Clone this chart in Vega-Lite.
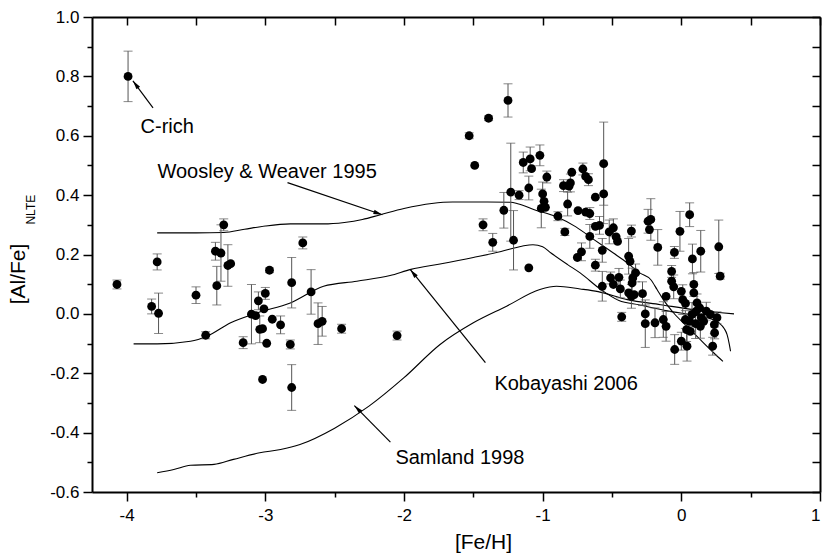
{
  "$schema": "https://vega.github.io/schema/vega-lite/v6.json",
  "width": 728,
  "height": 475,
  "autosize": {"type": "none"},
  "padding": {"left": 92, "top": 17, "right": 2, "bottom": 66},
  "config": {
    "font": "Liberation Sans",
    "view": {"stroke": null},
    "axis": {
      "domainColor": "#000", "domainWidth": 2, "tickColor": "#000", "tickWidth": 1.5,
      "labelColor": "#000", "titleColor": "#000", "labelFont": "Liberation Sans", "titleFont": "Liberation Sans",
      "labelFontSize": 17, "titleFontSize": 21, "titleFontWeight": "normal", "grid": false
    }
  },
  "datasets": {
    "stars": [
      {"x": -4.07, "y": 0.099, "e": 0.015}, {"x": -3.78, "y": 0.175, "e": 0.027}, {"x": -3.82, "y": 0.025, "e": 0.025},
      {"x": -3.77, "y": 0.002, "e": 0.068}, {"x": -3.50, "y": 0.063, "e": 0.028}, {"x": -3.43, "y": -0.072, "e": 0.012},
      {"x": -3.30, "y": 0.300, "e": 0.02}, {"x": -3.36, "y": 0.211, "e": 0.03}, {"x": -3.32, "y": 0.205, "e": 0.095},
      {"x": -3.35, "y": 0.095, "e": 0.065}, {"x": -3.27, "y": 0.163, "e": 0.07}, {"x": -3.25, "y": 0.169, "e": 0},
      {"x": -2.97, "y": 0.147, "e": 0.008}, {"x": -2.81, "y": 0.105, "e": 0.085}, {"x": -2.73, "y": 0.239, "e": 0.02},
      {"x": -2.67, "y": 0.074, "e": 0.075}, {"x": -2.62, "y": -0.033, "e": 0.07}, {"x": -2.59, "y": -0.025, "e": 0.05},
      {"x": -2.45, "y": -0.050, "e": 0.015}, {"x": -3.00, "y": 0.069, "e": 0.02}, {"x": -3.05, "y": 0.044, "e": 0.03},
      {"x": -3.01, "y": 0.017, "e": 0}, {"x": -3.10, "y": -0.001, "e": 0.1}, {"x": -3.07, "y": -0.006, "e": 0},
      {"x": -3.04, "y": -0.052, "e": 0.045}, {"x": -3.02, "y": -0.050, "e": 0}, {"x": -2.95, "y": -0.018, "e": 0},
      {"x": -2.89, "y": -0.037, "e": 0.03}, {"x": -3.16, "y": -0.097, "e": 0.02}, {"x": -2.99, "y": -0.099, "e": 0},
      {"x": -2.82, "y": -0.103, "e": 0.015}, {"x": -3.02, "y": -0.221, "e": 0}, {"x": -2.81, "y": -0.248, "e": 0.077},
      {"x": -3.99, "y": 0.800, "e": 0.085}, {"x": -2.05, "y": -0.073, "e": 0.015},
      {"x": -1.25, "y": 0.719, "e": 0.056}, {"x": -1.39, "y": 0.659, "e": 0.008}, {"x": -1.53, "y": 0.600, "e": 0.01},
      {"x": -1.49, "y": 0.500, "e": 0}, {"x": -1.14, "y": 0.510, "e": 0.035}, {"x": -1.09, "y": 0.522, "e": 0.04},
      {"x": -1.08, "y": 0.489, "e": 0}, {"x": -1.02, "y": 0.534, "e": 0.035}, {"x": -0.97, "y": 0.461, "e": 0.02},
      {"x": -1.10, "y": 0.424, "e": 0.04}, {"x": -1.23, "y": 0.410, "e": 0.165}, {"x": -1.21, "y": 0.248, "e": 0.1},
      {"x": -1.17, "y": 0.400, "e": 0.015}, {"x": -1.28, "y": 0.349, "e": 0.06}, {"x": -1.43, "y": 0.300, "e": 0.02},
      {"x": -1.36, "y": 0.241, "e": 0.03}, {"x": -1.10, "y": 0.155, "e": 0}, {"x": -0.84, "y": 0.276, "e": 0.012},
      {"x": -0.75, "y": 0.190, "e": 0}, {"x": -1.00, "y": 0.404, "e": 0.04}, {"x": -0.99, "y": 0.379, "e": 0},
      {"x": -0.98, "y": 0.359, "e": 0}, {"x": -1.01, "y": 0.355, "e": 0.065}, {"x": -0.89, "y": 0.329, "e": 0.015},
      {"x": -0.85, "y": 0.432, "e": 0.02}, {"x": -0.81, "y": 0.430, "e": 0}, {"x": -0.80, "y": 0.441, "e": 0.03},
      {"x": -0.79, "y": 0.477, "e": 0}, {"x": -0.82, "y": 0.370, "e": 0.04}, {"x": -0.745, "y": 0.348, "e": 0},
      {"x": -0.71, "y": 0.488, "e": 0.02}, {"x": -0.69, "y": 0.463, "e": 0}, {"x": -0.67, "y": 0.452, "e": 0.02},
      {"x": -0.62, "y": 0.393, "e": 0}, {"x": -0.56, "y": 0.506, "e": 0.14}, {"x": -0.56, "y": 0.404, "e": 0.1},
      {"x": -0.69, "y": 0.343, "e": 0}, {"x": -0.66, "y": 0.338, "e": 0.02}, {"x": -0.62, "y": 0.295, "e": 0},
      {"x": -0.59, "y": 0.298, "e": 0.03}, {"x": -0.66, "y": 0.261, "e": 0.04}, {"x": -0.52, "y": 0.276, "e": 0.04},
      {"x": -0.49, "y": 0.290, "e": 0.03}, {"x": -0.47, "y": 0.259, "e": 0}, {"x": -0.46, "y": 0.244, "e": 0},
      {"x": -0.36, "y": 0.279, "e": 0.02}, {"x": -0.57, "y": 0.214, "e": 0.04}, {"x": -0.72, "y": 0.209, "e": 0.03},
      {"x": -0.62, "y": 0.164, "e": 0.02}, {"x": -0.38, "y": 0.194, "e": 0.06}, {"x": -0.37, "y": 0.177, "e": 0},
      {"x": -0.51, "y": 0.121, "e": 0.02}, {"x": -0.45, "y": 0.123, "e": 0.03}, {"x": -0.49, "y": 0.099, "e": 0},
      {"x": -0.44, "y": 0.084, "e": 0.03}, {"x": -0.33, "y": 0.138, "e": 0.03}, {"x": -0.35, "y": 0.121, "e": 0},
      {"x": -0.355, "y": 0.104, "e": 0.05}, {"x": -0.38, "y": 0.071, "e": 0}, {"x": -0.36, "y": 0.059, "e": 0.04},
      {"x": -0.28, "y": 0.068, "e": 0.04}, {"x": -0.34, "y": 0.065, "e": 0}, {"x": -0.43, "y": -0.010, "e": 0.015},
      {"x": -0.24, "y": 0.312, "e": 0.04}, {"x": -0.22, "y": 0.318, "e": 0.07}, {"x": -0.23, "y": 0.284, "e": 0},
      {"x": -0.17, "y": 0.224, "e": 0.06}, {"x": -0.26, "y": 0.000, "e": 0.03}, {"x": -0.26, "y": -0.033, "e": 0.08},
      {"x": -0.19, "y": -0.030, "e": 0.05}, {"x": -0.13, "y": -0.019, "e": 0.06}, {"x": -0.11, "y": -0.042, "e": 0.05},
      {"x": -0.11, "y": 0.059, "e": 0}, {"x": -0.01, "y": 0.278, "e": 0.067}, {"x": 0.06, "y": 0.334, "e": 0.04},
      {"x": -0.05, "y": 0.207, "e": 0.02}, {"x": 0.08, "y": 0.185, "e": 0.05}, {"x": 0.14, "y": 0.211, "e": 0.07},
      {"x": 0.27, "y": 0.226, "e": 0.09}, {"x": 0.28, "y": 0.127, "e": 0.01}, {"x": -0.07, "y": 0.143, "e": 0.02},
      {"x": -0.07, "y": 0.110, "e": 0}, {"x": -0.055, "y": 0.091, "e": 0.04}, {"x": 0.09, "y": 0.099, "e": 0.04},
      {"x": 0.09, "y": 0.071, "e": 0}, {"x": 0.00, "y": 0.076, "e": 0}, {"x": 0.01, "y": 0.048, "e": 0.05},
      {"x": 0.03, "y": 0.035, "e": 0}, {"x": -0.57, "y": 0.093, "e": 0.05},
      {"x": 0.113, "y": 0.037, "e": 0.03}, {"x": 0.132, "y": 0.020, "e": 0}, {"x": 0.108, "y": 0.009, "e": 0},
      {"x": 0.077, "y": -0.002, "e": 0.04}, {"x": 0.18, "y": 0.009, "e": 0.03}, {"x": 0.21, "y": -0.002, "e": 0},
      {"x": 0.257, "y": -0.013, "e": 0.02}, {"x": 0.238, "y": -0.036, "e": 0.03}, {"x": 0.144, "y": -0.013, "e": 0},
      {"x": 0.103, "y": -0.033, "e": 0.05}, {"x": 0.06, "y": -0.025, "e": 0}, {"x": 0.038, "y": -0.053, "e": 0.04},
      {"x": 0.065, "y": -0.059, "e": 0}, {"x": 0.24, "y": -0.064, "e": 0.02}, {"x": 0.226, "y": -0.109, "e": 0.03},
      {"x": 0.041, "y": -0.109, "e": 0.05}, {"x": 0.0, "y": -0.092, "e": 0.03}, {"x": -0.048, "y": -0.120, "e": 0.05},
      {"x": 0.137, "y": -0.042, "e": 0.04}, {"x": 0.161, "y": -0.025, "e": 0}, {"x": 0.029, "y": -0.019, "e": 0.03}
    ],
    "models": [
      {"model": "WW95", "x": -3.78, "y": 0.273}, {"model": "WW95", "x": -3.5, "y": 0.273}, {"model": "WW95", "x": -3.3, "y": 0.274},
      {"model": "WW95", "x": -3.15, "y": 0.285}, {"model": "WW95", "x": -3.0, "y": 0.296}, {"model": "WW95", "x": -2.82, "y": 0.303},
      {"model": "WW95", "x": -2.58, "y": 0.303}, {"model": "WW95", "x": -2.43, "y": 0.308}, {"model": "WW95", "x": -2.3, "y": 0.318},
      {"model": "WW95", "x": -2.17, "y": 0.334}, {"model": "WW95", "x": -2.0, "y": 0.355}, {"model": "WW95", "x": -1.8, "y": 0.372},
      {"model": "WW95", "x": -1.65, "y": 0.377}, {"model": "WW95", "x": -1.4, "y": 0.377}, {"model": "WW95", "x": -1.23, "y": 0.376},
      {"model": "WW95", "x": -1.18, "y": 0.371}, {"model": "WW95", "x": -1.06, "y": 0.351}, {"model": "WW95", "x": -0.9, "y": 0.327},
      {"model": "WW95", "x": -0.76, "y": 0.293}, {"model": "WW95", "x": -0.63, "y": 0.25}, {"model": "WW95", "x": -0.49, "y": 0.205},
      {"model": "WW95", "x": -0.39, "y": 0.172}, {"model": "WW95", "x": -0.3, "y": 0.138}, {"model": "WW95", "x": -0.22, "y": 0.115},
      {"model": "WW95", "x": -0.175, "y": 0.082}, {"model": "WW95", "x": -0.13, "y": 0.048}, {"model": "WW95", "x": -0.055, "y": 0.003},
      {"model": "WW95", "x": 0.04, "y": -0.042}, {"model": "WW95", "x": 0.137, "y": -0.087}, {"model": "WW95", "x": 0.233, "y": -0.131},
      {"model": "WW95", "x": 0.30, "y": -0.16},
      {"model": "K06", "x": -3.95, "y": -0.101}, {"model": "K06", "x": -3.78, "y": -0.101}, {"model": "K06", "x": -3.54, "y": -0.092},
      {"model": "K06", "x": -3.42, "y": -0.075}, {"model": "K06", "x": -3.25, "y": -0.03}, {"model": "K06", "x": -3.06, "y": 0.003},
      {"model": "K06", "x": -2.82, "y": 0.037}, {"model": "K06", "x": -2.58, "y": 0.093}, {"model": "K06", "x": -2.34, "y": 0.11},
      {"model": "K06", "x": -2.1, "y": 0.129}, {"model": "K06", "x": -1.95, "y": 0.15}, {"model": "K06", "x": -1.74, "y": 0.168},
      {"model": "K06", "x": -1.5, "y": 0.19}, {"model": "K06", "x": -1.3, "y": 0.21}, {"model": "K06", "x": -1.15, "y": 0.228},
      {"model": "K06", "x": -1.07, "y": 0.233}, {"model": "K06", "x": -1.0, "y": 0.226}, {"model": "K06", "x": -0.94, "y": 0.205},
      {"model": "K06", "x": -0.82, "y": 0.166}, {"model": "K06", "x": -0.73, "y": 0.138}, {"model": "K06", "x": -0.58, "y": 0.082},
      {"model": "K06", "x": -0.45, "y": 0.045}, {"model": "K06", "x": -0.3, "y": 0.03}, {"model": "K06", "x": -0.1, "y": 0.01},
      {"model": "K06", "x": 0.1, "y": -0.005}, {"model": "K06", "x": 0.2, "y": -0.015}, {"model": "K06", "x": 0.27, "y": -0.03},
      {"model": "K06", "x": 0.31, "y": -0.05}, {"model": "K06", "x": 0.33, "y": -0.07}, {"model": "K06", "x": 0.345, "y": -0.1},
      {"model": "K06", "x": 0.355, "y": -0.126},
      {"model": "S98", "x": -3.78, "y": -0.535}, {"model": "S98", "x": -3.66, "y": -0.524}, {"model": "S98", "x": -3.54, "y": -0.51},
      {"model": "S98", "x": -3.37, "y": -0.507}, {"model": "S98", "x": -3.23, "y": -0.49}, {"model": "S98", "x": -3.04, "y": -0.468},
      {"model": "S98", "x": -2.89, "y": -0.457}, {"model": "S98", "x": -2.75, "y": -0.44}, {"model": "S98", "x": -2.5, "y": -0.385},
      {"model": "S98", "x": -2.25, "y": -0.31}, {"model": "S98", "x": -2.0, "y": -0.215}, {"model": "S98", "x": -1.74, "y": -0.103},
      {"model": "S98", "x": -1.5, "y": -0.03}, {"model": "S98", "x": -1.26, "y": 0.026}, {"model": "S98", "x": -1.02, "y": 0.082},
      {"model": "S98", "x": -0.9, "y": 0.093}, {"model": "S98", "x": -0.73, "y": 0.084}, {"model": "S98", "x": -0.6, "y": 0.075},
      {"model": "S98", "x": -0.39, "y": 0.048}, {"model": "S98", "x": -0.15, "y": 0.031}, {"model": "S98", "x": 0.09, "y": 0.014},
      {"model": "S98", "x": 0.38, "y": 0.0}
    ],
    "notes": [
      {"label": "C-rich", "x": -3.90, "y": 0.629},
      {"label": "Woosley & Weaver 1995", "x": -3.778, "y": 0.479},
      {"label": "Kobayashi 2006", "x": -1.348, "y": -0.235},
      {"label": "Samland 1998", "x": -2.062, "y": -0.486}
    ],
    "arrows": [
      {"tx": -3.81, "ty": 0.694, "hx": -3.955, "hy": 0.785},
      {"tx": -2.84, "ty": 0.442, "hx": -2.156, "hy": 0.334},
      {"tx": -1.413, "ty": -0.164, "hx": -1.954, "hy": 0.149},
      {"tx": -2.098, "ty": -0.432, "hx": -2.358, "hy": -0.309}
    ],
    "sub": [{"label": "NLTE", "x": -4.69, "y": 0.351}]
  },
  "layer": [
    {
      "data": {"name": "models"},
      "mark": {"type": "line", "color": "#000", "strokeWidth": 1.1, "interpolate": "monotone"},
      "encoding": {
        "x": {"field": "x", "type": "quantitative", "scale": {"domain": [-4.25, 1], "nice": false, "zero": false},
          "axis": {"orient": "bottom", "values": [-4, -3.5, -3, -2.5, -2, -1.5, -1, -0.5, 0, 0.5, 1],
            "labelExpr": "datum.value % 1 === 0 ? (datum.value < 0 ? '-' : '') + format(abs(datum.value), 'd') : ''",
            "tickSize": {"condition": {"test": "datum.value % 1 === 0", "value": 9}, "value": 5},
            "labelPadding": 6, "title": "[Fe/H]", "titleX": 391, "titleY": 56, "titleBaseline": "alphabetic", "titleAlign": "center"}},
        "y": {"field": "y", "type": "quantitative", "scale": {"domain": [-0.6, 1.0], "nice": false, "zero": false},
          "axis": {"orient": "left", "values": [-0.6, -0.5, -0.4, -0.3, -0.2, -0.1, 0, 0.1, 0.2, 0.3, 0.4, 0.5, 0.6, 0.7, 0.8, 0.9, 1.0],
            "labelExpr": "round(datum.value*10) % 2 === 0 ? (datum.value < -0.001 ? '-' : '') + format(abs(datum.value), '.1f') : ''",
            "tickSize": {"condition": {"test": "round(datum.value*10) % 2 === 0", "value": 9}, "value": 5},
            "labelPadding": 4, "title": "[Al/Fe]", "titleX": -68, "titleY": 256.5, "titleAngle": 270,
            "titleBaseline": "alphabetic", "titleAlign": "center"}},
        "detail": {"field": "model"}
      }
    },
    {
      "data": {"name": "stars"},
      "transform": [{"filter": "datum.e > 0"}],
      "mark": {"type": "errorbar", "color": "#555", "thickness": 1, "ticks": {"size": 9, "thickness": 1}},
      "encoding": {
        "x": {"field": "x", "type": "quantitative", "axis": null},
        "y": {"field": "y", "type": "quantitative", "axis": null},
        "yError": {"field": "e"}
      }
    },
    {
      "data": {"name": "stars"},
      "mark": {"type": "circle", "size": 78, "color": "#000", "opacity": 1},
      "encoding": {
        "x": {"field": "x", "type": "quantitative", "axis": null},
        "y": {"field": "y", "type": "quantitative", "axis": null}
      }
    },
    {
      "data": {"name": "arrows"},
      "mark": {"type": "rule", "color": "#000", "strokeWidth": 1.2},
      "encoding": {
        "x": {"field": "tx", "type": "quantitative",
          "axis": {"orient": "top", "values": [-4, -3.5, -3, -2.5, -2, -1.5, -1, -0.5, 0, 0.5, 1], "labels": false, "tickSize": -8, "title": null}},
        "y": {"field": "ty", "type": "quantitative",
          "axis": {"orient": "right", "values": [-0.6, -0.5, -0.4, -0.3, -0.2, -0.1, 0, 0.1, 0.2, 0.3, 0.4, 0.5, 0.6, 0.7, 0.8, 0.9, 1.0], "labels": false, "tickSize": -8, "title": null}},
        "x2": {"field": "hx"},
        "y2": {"field": "hy"}
      }
    },
    {
      "data": {"name": "arrows"},
      "transform": [{"calculate": "atan2((datum.hx - datum.tx) * 138.7, (datum.hy - datum.ty) * 297) * 180 / PI", "as": "ang"}],
      "mark": {"type": "point", "shape": "M0,0L0.6,2.4L-0.6,2.4Z", "filled": true, "color": "#000", "size": 56, "opacity": 1, "strokeWidth": 0},
      "encoding": {
        "x": {"field": "hx", "type": "quantitative", "axis": null},
        "y": {"field": "hy", "type": "quantitative", "axis": null},
        "angle": {"field": "ang", "type": "quantitative", "scale": null}
      }
    },
    {
      "data": {"name": "notes"},
      "mark": {"type": "text", "align": "left", "baseline": "middle", "fontSize": 20, "font": "Liberation Sans", "color": "#000"},
      "encoding": {
        "x": {"field": "x", "type": "quantitative", "axis": null},
        "y": {"field": "y", "type": "quantitative", "axis": null},
        "text": {"field": "label"}
      }
    },
    {
      "data": {"name": "sub"},
      "mark": {"type": "text", "align": "center", "baseline": "middle", "fontSize": 12, "angle": 270, "font": "Liberation Sans", "color": "#000"},
      "encoding": {
        "x": {"field": "x", "type": "quantitative", "axis": null},
        "y": {"field": "y", "type": "quantitative", "axis": null},
        "text": {"field": "label"}
      }
    }
  ],
  "resolve": {"axis": {"x": "independent", "y": "independent"}}
}
